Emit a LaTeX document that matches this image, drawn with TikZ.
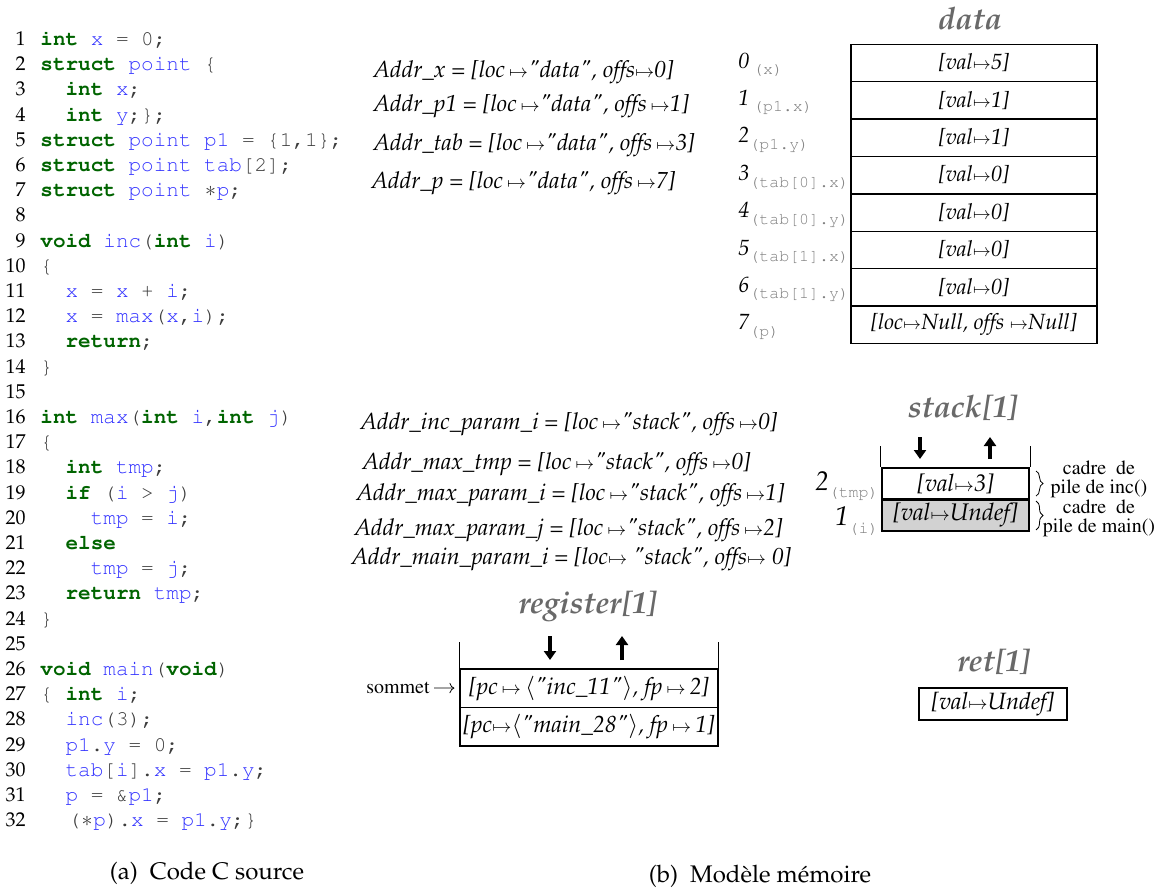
\documentclass[tikz,border=0pt]{standalone}
\usepackage[T1]{fontenc}
\usepackage{mathpazo}
\usepackage{courier}
\usepackage{tikz}
\usetikzlibrary{arrows.meta,positioning,calc,decorations.pathreplacing}
\definecolor{kwgreen}{RGB}{0,100,0}
\definecolor{idblue}{RGB}{51,51,255}
\definecolor{codegray}{RGB}{60,60,60}
\definecolor{titlegray}{RGB}{105,105,105}
\newcommand{\kw}[1]{\textcolor{kwgreen}{\bfseries #1}}
\newcommand{\vr}[1]{\textcolor{idblue}{#1}}
\newcommand{\mt}{$\scriptstyle\mapsto$}
\newcommand{\qt}{\textquotedbl}
\newcommand{\sub}[1]{\raisebox{-0.6ex}{\fontsize{8.3}{9}\ttfamily\upshape\color{gray}#1}}

\begin{document}
\begin{tikzpicture}[x=0.5pt,y=-0.5pt,
    lnum/.style={anchor=base east,inner sep=0pt,font=\fontsize{10}{12}\selectfont},
    code/.style={anchor=base west,inner sep=0pt,text=codegray,font=\fontsize{10.5}{12}\ttfamily},
    addr/.style={anchor=west,inner sep=0pt,font=\fontsize{11.6}{13}\itshape},
    cell/.style={draw,line width=0.7pt,inner sep=0pt,minimum width=123pt,minimum height=18.7pt,font=\fontsize{11}{13}\itshape},
    stackcell/.style={draw,line width=1.2pt,inner sep=0pt,minimum width=73.5pt,minimum height=15.75pt,font=\fontsize{12}{13}\itshape},
    regcell/.style={draw,line width=0.6pt,inner sep=0pt,minimum width=129pt,minimum height=19.25pt,font=\fontsize{11.7}{13}\itshape},
    lbl/.style={inner sep=0pt,font=\fontsize{11}{13}\itshape},
    memtitle/.style={inner sep=0pt,text=titlegray,font=\fontsize{15.5}{17}\bfseries\itshape},
    tm/.style={inner sep=0pt,align=center,font=\fontfamily{ptm}\fontsize{10}{9.5}\selectfont},
    blockarrow/.style={line width=1.6pt,-{Triangle[length=4.5pt,width=6pt]}},
    legende/.style={inner sep=0pt,font=\fontsize{12}{14}\selectfont}]

    \useasboundingbox (0,0) rectangle (1159,887);

    % code C
    \foreach \n in {1,...,32}
        \node[lnum] (l\n) at (26,{45.5+(\n-1)*25.2}) {\n};
    \foreach \n/\i/\t in {
        1/0/{\kw{int} \vr{x} = 0;},
        2/0/{\kw{struct} \vr{point} \{},
        3/2/{\kw{int} \vr{x};},
        4/2/{\kw{int} \vr{y};\};},
        5/0/{\kw{struct} \vr{point} \vr{p1} = \{1,1\};},
        6/0/{\kw{struct} \vr{point} \vr{tab}[2];},
        7/0/{\kw{struct} \vr{point} \makebox[6.3pt]{$\ast$}\vr{p};},
        9/0/{\kw{void} \vr{inc}(\kw{int} \vr{i})},
        10/0/{\{},
        11/2/{\vr{x} = \vr{x} + \vr{i};},
        12/2/{\vr{x} = \vr{max}(\vr{x},\vr{i});},
        13/2/{\kw{return};},
        14/0/{\}},
        16/0/{\kw{int} \vr{max}(\kw{int} \vr{i},\kw{int} \vr{j})},
        17/0/{\{},
        18/2/{\kw{int} \vr{tmp};},
        19/2/{\kw{if} (\vr{i} > \vr{j})},
        20/4/{\vr{tmp} = \vr{i};},
        21/2/{\kw{else}},
        22/4/{\vr{tmp} = \vr{j};},
        23/2/{\kw{return} \vr{tmp};},
        24/0/{\}},
        26/0/{\kw{void} \vr{main}(\kw{void})},
        27/0/{\{ \kw{int} \vr{i};},
        28/2/{\vr{inc}(3);},
        29/2/{\vr{p1}.\vr{y} = 0;},
        30/2/{\vr{tab}[\vr{i}].\vr{x} = \vr{p1}.\vr{y};},
        31/2/{\vr{p} = \&\vr{p1};},
        32/2.2/{(\makebox[6.3pt]{$\ast$}\vr{p}).\vr{x} = \vr{p1}.\vr{y};\}}}
        \node[code] (c\n) at ({40+\i*12.6},{45.5+(\n-1)*25.2}) {\t};

    % adresses
    \foreach \n/\x/\y/\t in {
        x/373/72/{Addr\_x = [loc\,\mt\qt data\qt, offs\mt 0]},
        p1/373/106/{Addr\_p1 = [loc\,\mt\qt data\qt, offs\,\mt 1]},
        tab/373/145/{Addr\_tab = [loc\,\mt\qt data\qt, offs\,\mt 3]},
        p/371/183/{Addr\_p = [loc\,\mt\qt data\qt, offs\,\mt 7]},
        inci/360/424/{Addr\_inc\_param\_i = [loc\,\mt\qt stack\qt, offs\,\mt 0]},
        maxtmp/362/464/{Addr\_max\_tmp = [loc\,\mt\qt stack\qt, offs\,\mt 0]},
        maxi/356/495/{Addr\_max\_param\_i = [loc\,\mt\qt stack\qt, offs\,\mt 1]},
        maxj/354/530/{Addr\_max\_param\_j = [loc\,\mt\qt stack\qt, offs\,\mt 2]},
        maini/351/559/{Addr\_main\_param\_i = [loc\mt\ \qt stack\qt, offs\mt\ 0]}}
        \node[addr] (a\n) at (\x,\y) {\t};

    % data
    \node[memtitle] (tdata) at (970,19) {data};
    \foreach \i/\v in {0/{[val\mt 5]},1/{[val\mt 1]},2/{[val\mt 1]},3/{[val\mt 0]},
                       4/{[val\mt 0]},5/{[val\mt 0]},6/{[val\mt 0]},7/{[loc\mt Null, offs \mt Null]}}
        \node[cell] (d\i) at (974,{63+\i*37.4}) {\v};
    \foreach \i/\s in {0/{\,\sub{(x)}},1/{\,\sub{(p1.x)}},2/{\sub{(p1.y)}},3/{\sub{(tab[0].x)}},
                       4/{\sub{(tab[0].y)}},5/{\sub{(tab[1].x)}},6/{\sub{(tab[1].y)}},7/{\sub{(p)}}}
        \node[lbl,anchor=west] (o\i) at (738,{65+\i*37.4}) {\i\s};

    % stack
    \node[memtitle] (tstack) at (963,408) {stack[1]};
    \node[stackcell] (sk2) at (955.5,483.75) {[val\mt 3]};
    \node[stackcell,fill=gray!35] (sk1) at (955.5,515.25) {[val\mt Undef]};
    \draw[line width=0.6pt] (sk2.north west) -- ++(0,-21);
    \draw[line width=0.6pt] (sk2.north east) -- ++(0,-21);
    \draw[blockarrow] (920,437) -- (920,459);
    \draw[blockarrow] (990,459) -- (990,437);
    \node[lbl,anchor=east,font=\fontsize{13.5}{14}\itshape] (s2) at (879,486) {2\sub{(tmp)}};
    \node[lbl,anchor=east,font=\fontsize{13.5}{14}\itshape] (s1) at (879,521) {1\sub{(i)}};
    \draw[decorate,decoration={brace,amplitude=3.5pt}] (1036,471) -- (1036,496);
    \draw[decorate,decoration={brace,amplitude=3.5pt}] (1036,501) -- (1036,530);
    \node[tm] (finc) at (1099,479) {cadre\ \ de\\pile\ de\ inc()};
    \node[tm] (fmain) at (1099,518) {cadre\ \ de\\pile\ de\ main()};

    % register
    \node[memtitle] (treg) at (588,607) {register[1]};
    \node[regcell] (rg2) at (589,688.25) {[pc\,\mt\,$\langle$\qt inc\_11\qt$\rangle$, fp\,\mt\,2]};
    \node[regcell] (rg1) at (589,726.75) {[pc\mt$\langle$\qt main\_28\qt$\rangle$, fp\,\mt\,1]};
    \draw[line width=0.6pt] (rg2.north west) -- ++(0,-26);
    \draw[line width=0.6pt] (rg2.north east) -- ++(0,-26);
    \draw[blockarrow] (550,636) -- (550,660);
    \draw[blockarrow] (622,660) -- (622,636);
    \node[tm,anchor=east] (sommet) at (430,688) {sommet};
    \draw[->,shorten <=2pt,shorten >=2.5pt] (sommet) -- (rg2);

    % ret
    \node[memtitle] (tret) at (994,662) {ret[1]};
    \node[draw,line width=0.7pt,inner sep=0pt,minimum width=74pt,minimum height=16pt,
          font=\fontsize{11.8}{13}\itshape] (rt) at (993,704) {[val\mt Undef]};

    % legendes
    \node[legende] (capa) at (207,873) {(a)\enspace Code C source};
    \node[legende] (capb) at (760,876) {(b)\enspace Mod\`ele m\'emoire};
\end{tikzpicture}
\end{document}
